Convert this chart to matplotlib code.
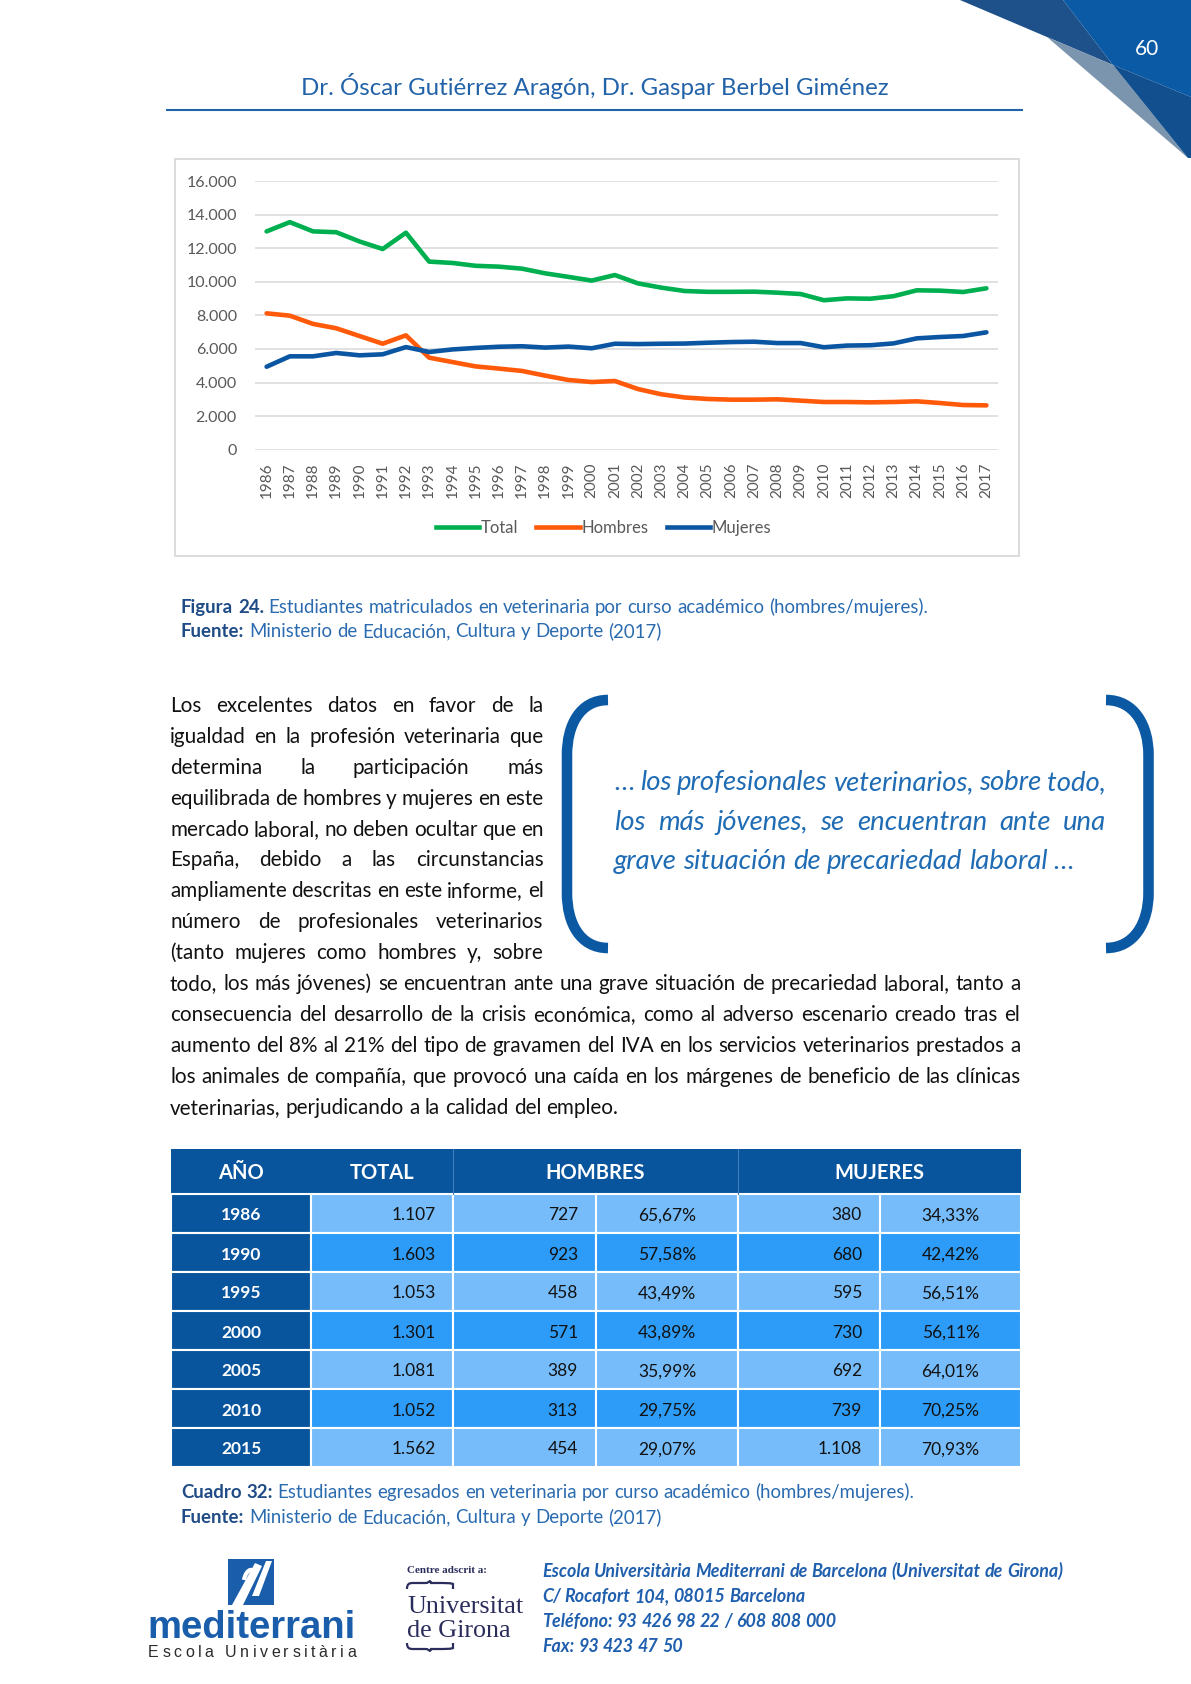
import matplotlib
matplotlib.use('Agg')
import matplotlib.pyplot as plt
from matplotlib.patches import Rectangle, Polygon, PathPatch
from matplotlib.path import Path
from matplotlib.lines import Line2D

# ---------------- data ----------------
years = ['1986', '1987', '1988', '1989', '1990', '1991', '1992', '1993', '1994', '1995',
         '1996', '1997', '1998', '1999', '2000', '2001', '2002', '2003', '2004', '2005',
         '2006', '2007', '2008', '2009', '2010', '2011', '2012', '2013', '2014', '2015',
         '2016', '2017']
total = [13000, 13550, 13000, 12950, 12400, 11950, 12920, 11200, 11120, 10950,
         10900, 10780, 10500, 10290, 10070, 10400, 9900, 9650, 9450, 9400,
         9400, 9410, 9350, 9270, 8900, 9010, 8990, 9140, 9490, 9470, 9390, 9610]
hombres = [8120, 7980, 7490, 7230, 6770, 6310, 6810, 5480, 5220, 4960,
           4830, 4690, 4410, 4150, 4030, 4090, 3610, 3300, 3110, 3020,
           2980, 2980, 3000, 2920, 2840, 2840, 2820, 2840, 2880, 2780, 2660, 2640]
mujeres = [4940, 5560, 5560, 5760, 5620, 5680, 6110, 5820, 5970, 6060,
           6130, 6160, 6080, 6140, 6040, 6310, 6290, 6310, 6320, 6370,
           6410, 6430, 6350, 6350, 6100, 6200, 6220, 6330, 6630, 6710, 6770, 6990]
series_names = ['Total', 'Hombres', 'Mujeres']
series_colors = ['#00B050', '#FF5A0A', '#0B56A2']
y_ticks = [0, 2000, 4000, 6000, 8000, 10000, 12000, 14000, 16000]

tab_header = ['AÑO', 'TOTAL', 'HOMBRES', 'MUJERES']
tab_years = ['1986', '1990', '1995', '2000', '2005', '2010', '2015']
tab_total = ['1.107', '1.603', '1.053', '1.301', '1.081', '1.052', '1.562']
tab_h = ['727', '923', '458', '571', '389', '313', '454']
tab_hp = ['65,67%', '57,58%', '43,49%', '43,89%', '35,99%', '29,75%', '29,07%']
tab_m = ['380', '680', '595', '730', '692', '739', '1.108']
tab_mp = ['34,33%', '42,42%', '56,51%', '56,11%', '64,01%', '70,25%', '70,93%']

header_text = 'Dr. Óscar Gutiérrez Aragón, Dr. Gaspar Berbel Giménez'
page_num = '60'
body_left = ['Los excelentes datos en favor de la',
             'igualdad en la profesión veterinaria que',
             'determina la participación más',
             'equilibrada de hombres y mujeres en este',
             'mercado laboral, no deben ocultar que en',
             'España, debido a las circunstancias',
             'ampliamente descritas en este informe, el',
             'número de profesionales veterinarios',
             '(tanto mujeres como hombres y, sobre']
body_full = ['todo, los más jóvenes) se encuentran ante una grave situación de precariedad laboral, tanto a',
             'consecuencia del desarrollo de la crisis económica, como al adverso escenario creado tras el',
             'aumento del 8% al 21% del tipo de gravamen del IVA en los servicios veterinarios prestados a',
             'los animales de compañía, que provocó una caída en los márgenes de beneficio de las clínicas',
             'veterinarias, perjudicando a la calidad del empleo.']
quote_lines = ['… los profesionales veterinarios, sobre todo,',
               'los más jóvenes, se encuentran ante una',
               'grave situación de precariedad laboral …']
footer_lines = ['Escola Universitària Mediterrani de Barcelona (Universitat de Girona)',
                'C/ Rocafort 104, 08015 Barcelona',
                'Teléfono: 93 426 98 22 / 608 808 000',
                'Fax: 93 423 47 50']

# ---------------- page setup ----------------
W, H = 1191, 1684
fig = plt.figure(figsize=(W / 100, H / 100), dpi=100)
fig.patch.set_facecolor('white')
pg = fig.add_axes([0, 0, 1, 1])
pg.set_xlim(0, W)
pg.set_ylim(H, 0)
pg.axis('off')
R = fig.canvas.get_renderer()
F = 'Lato'


def tw(s, **kw):
    t = pg.text(0, 0, s, **kw)
    w = t.get_window_extent(renderer=R).width
    t.remove()
    return w


def toks(s, **st):
    return [(w, st) for w in s.split(' ')]


def space_w(fs, fam, st):
    return tw('n n', fontsize=fs, family=fam, **st) - tw('nn', fontsize=fs, family=fam, **st)


def fit_size(tokens, target, fam, base=20.0):
    ws = [tw(w, fontsize=base, family=fam, **st) for w, st in tokens]
    sp = space_w(base, fam, tokens[-1][1])
    nat = sum(ws) + sp * (len(tokens) - 1)
    return base * target / nat


def draw_line(x0, y, tokens, fs, fam, x1=None):
    ws = [tw(w, fontsize=fs, family=fam, **st) for w, st in tokens]
    if x1 is None or len(tokens) == 1:
        gap = space_w(fs, fam, tokens[-1][1])
    else:
        gap = (x1 - x0 - sum(ws)) / (len(tokens) - 1)
    x = x0
    for (w, st), wd in zip(tokens, ws):
        pg.text(x, y, w, fontsize=fs, family=fam, ha='left', va='baseline', **st)
        x += wd + gap


# ---------------- top-right decoration ----------------
pg.add_patch(Polygon([(960, 0), (1063, 0), (1113, 65), (1047, 37)], closed=True, fc='#1E5189', ec='none'))
pg.add_patch(Polygon([(1063, 0), (1191, 0), (1191, 97), (1113, 65)], closed=True, fc='#0B5AA6', ec='none'))
pg.add_patch(Polygon([(1047, 37), (1113, 65), (1188, 158)], closed=True, fc='#7C95AE', ec='none'))
pg.add_patch(Polygon([(1113, 65), (1191, 97), (1191, 158), (1188, 158)], closed=True, fc='#124F8E', ec='none'))
pg.text(1147, 49, page_num, color='white', fontsize=15, family=F, ha='center', va='center')

# header
hs = fit_size([(header_text, {})], 588, F)
pg.text(595, 95, header_text, fontsize=hs, family=F, color='#2262A9', ha='center', va='baseline')
pg.plot([166, 1023], [110, 110], color='#2262A9', lw=1.5, solid_capstyle='butt')

# ---------------- chart ----------------
pg.add_patch(Rectangle((175, 159), 844, 397, fc='white', ec='#D9D9D9', lw=1.3))
ax = fig.add_axes([255 / W, 1 - 449.7 / H, 743 / W, 268.7 / H])
ax.set_facecolor('none')
xs = list(range(len(years)))
for vals, name, col in zip([total, hombres, mujeres], series_names, series_colors):
    ax.plot(xs, vals, color=col, lw=3.3, label=name, solid_capstyle='round', solid_joinstyle='round')
ax.set_xlim(-0.5, len(years) - 0.5)
ax.set_ylim(0, 16000)
ax.set_yticks(y_ticks)
ax.set_yticklabels([f'{v:,.0f}'.replace(',', '.') for v in y_ticks])
ax.set_xticks(xs)
ax.set_xticklabels(years, rotation=90)
ax.yaxis.grid(True, color='#D9D9D9', lw=1.1)
ax.set_axisbelow(True)
for s in ax.spines.values():
    s.set_visible(False)
ax.tick_params(axis='y', length=0, pad=13, labelsize=11.5, labelcolor='#595959')
ax.tick_params(axis='x', length=0, pad=9, labelsize=11, labelcolor='#595959')
for lab in ax.get_xticklabels() + ax.get_yticklabels():
    lab.set_family(F)
handles = [Line2D([0], [0], color=c, lw=3.3) for c in series_colors]
leg = ax.legend(handles, series_names, loc='center', bbox_to_anchor=(603.5 / W, 1 - 528 / H),
                bbox_transform=fig.transFigure, ncol=3, frameon=False, handlelength=2.6,
                handletextpad=0.1, columnspacing=1.1, prop=dict(family=F, size=12))
for t in leg.get_texts():
    t.set_color('#595959')

# ---------------- caption 1 ----------------
cb = dict(color='#1F4B86', fontweight='bold')
cr = dict(color='#2A6BB0')
cap1 = toks('Figura 24.', **cb) + toks('Estudiantes matriculados en veterinaria por curso académico (hombres/mujeres).', **cr)
cap2 = toks('Fuente:', **cb) + toks('Ministerio de Educación, Cultura y Deporte (2017)', **cr)
cfs = fit_size(cap1, 749, F)
draw_line(181, 613, cap1, cfs, F)
draw_line(181, 637, cap2, cfs, F)

# ---------------- body paragraph ----------------
bst = dict(color='#111111')
bfs = fit_size(toks(body_full[-1], **bst), 450, F)
y0, dy = 712, 30.9
for i, line in enumerate(body_left):
    draw_line(170, y0 + dy * i, toks(line, **bst), bfs, F, x1=543.4)
for j, line in enumerate(body_full):
    i = len(body_left) + j
    x1 = None if j == len(body_full) - 1 else 1020.2
    draw_line(170, y0 + dy * i, toks(line, **bst), bfs, F, x1=x1)

# ---------------- quote ----------------
M_, C_, L_ = Path.MOVETO, Path.CURVE4, Path.LINETO
lb = Path([(608, 700), (580, 700), (567, 725), (567, 755), (567, 893), (567, 923), (580, 948), (608, 948)],
          [M_, C_, C_, C_, L_, C_, C_, C_])
rb = Path([(1106, 700), (1134, 700), (1148.5, 725), (1148.5, 755), (1148.5, 893), (1148.5, 923), (1134, 948), (1106, 948)],
          [M_, C_, C_, C_, L_, C_, C_, C_])
for p in (lb, rb):
    pg.add_patch(PathPatch(p, fc='none', ec='#0B58A3', lw=7.6, capstyle='butt'))
qst = dict(color='#1F6CB4', fontstyle='italic')
qfs = fit_size(toks(quote_lines[2], **qst), 460, F)
qy = [790, 829.6, 869]
for k, line in enumerate(quote_lines):
    draw_line(614, qy[k], toks(line, **qst), qfs, F, x1=(1106 if k < 2 else None))

# ---------------- table ----------------
cx = [171, 311, 453, 596, 738, 880, 1021]
hy0, hy1 = 1149, 1194
rh = 39
dark = '#08559E'
light = '#76BCFA'
mid = '#2D9CF8'
pg.add_patch(Rectangle((cx[0], hy0), cx[-1] - cx[0], hy1 - hy0, fc=dark, ec='none'))
for xv in (cx[2], cx[4]):
    pg.plot([xv, xv], [hy0, hy1], color='#3D7DBE', lw=0.8)
hc = [(cx[0] + cx[1]) / 2, (cx[1] + cx[2]) / 2, (cx[2] + cx[4]) / 2, (cx[4] + cx[6]) / 2]
for t, xc in zip(tab_header, hc):
    pg.text(xc, (hy0 + hy1) / 2 + 7.5, t, color='white', fontsize=14.5, fontweight='bold', family=F,
            ha='center', va='baseline')
for r in range(len(tab_years)):
    y = hy1 + rh * r
    bg = light if r % 2 == 0 else mid
    for c in range(6):
        fc = dark if c == 0 else bg
        pg.add_patch(Rectangle((cx[c], y), cx[c + 1] - cx[c], rh, fc=fc, ec='white', lw=1.5))
    yb = y + rh / 2 + 7
    kw = dict(fontsize=12.5, family=F, va='baseline')
    pg.text((cx[0] + cx[1]) / 2, yb, tab_years[r], color='white', fontweight='bold', ha='center', **kw)
    pg.text(cx[2] - 17, yb, tab_total[r], color='#111111', ha='right', **kw)
    pg.text(cx[3] - 18, yb, tab_h[r], color='#111111', ha='right', **kw)
    pg.text((cx[3] + cx[4]) / 2, yb, tab_hp[r], color='#111111', ha='center', **kw)
    pg.text(cx[5] - 18, yb, tab_m[r], color='#111111', ha='right', **kw)
    pg.text((cx[5] + cx[6]) / 2, yb, tab_mp[r], color='#111111', ha='center', **kw)

# caption 2
cap3 = toks('Cuadro 32:', **cb) + toks('Estudiantes egresados en veterinaria por curso académico (hombres/mujeres).', **cr)
draw_line(181, 1498, cap3, cfs, F)
draw_line(181, 1523, cap2, cfs, F)

# ---------------- footer ----------------
# mediterrani logo
pg.add_patch(Rectangle((228, 1559), 46, 46, fc='#1A5DAB', ec='none'))
pg.add_patch(Polygon([(232, 1605), (243, 1605), (262, 1566), (255, 1563)], closed=True, fc='white', ec='none'))
pg.add_patch(PathPatch(Path([(244, 1580), (246, 1568), (256, 1566), (252, 1578)], [M_, C_, C_, C_]),
                       fc='none', ec='white', lw=3))
pg.add_patch(Polygon([(252, 1596), (259, 1596), (272, 1561), (266, 1561)], closed=True, fc='white', ec='none'))
ms = fit_size([('mediterrani', dict(fontweight='bold'))], 208, 'Liberation Sans')
pg.text(147, 1638, 'mediterrani', fontsize=ms, fontweight='bold', family='Liberation Sans',
        color='#1A5DAB', ha='left', va='baseline')
esc = 'Escola Universitària'
cws = [tw(ch, fontsize=11.5, family='Liberation Sans') if ch != ' ' else 0 for ch in esc]
spw = space_w(11.5, 'Liberation Sans', {})
cws = [w if ch != ' ' else spw for w, ch in zip(cws, esc)]
track = (208 - sum(cws)) / (len(esc) - 1)
xx = 148
for ch, w in zip(esc, cws):
    if ch != ' ':
        pg.text(xx, 1657, ch, fontsize=11.5, family='Liberation Sans', color='#2B2B2B', ha='left', va='baseline')
    xx += w + track

# Universitat de Girona
navy = '#2B2D5C'
SER = 'Liberation Serif'
csz = fit_size([('Centre adscrit a:', dict(fontweight='bold'))], 80, SER)
pg.text(407, 1573, 'Centre adscrit a:', fontsize=csz, fontweight='bold', family=SER, color=navy,
        ha='left', va='baseline')
usz = fit_size([('Universitat', {})], 116, SER)
pg.text(407, 1613, 'Universitat', fontsize=usz, family=SER, color=navy, ha='left', va='baseline')
pg.text(407, 1637, 'de Girona', fontsize=usz, family=SER, color=navy, ha='left', va='baseline')
brace_top = Path([(407, 1589), (407, 1584), (409, 1583), (413, 1583), (426, 1583), (429, 1583), (430, 1579),
                  (431, 1583), (434, 1583), (447, 1583), (451, 1583), (453, 1584), (453, 1589)],
                 [M_, C_, C_, C_, L_, C_, C_, C_, L_, C_, C_, C_, L_])
brace_bot = Path([(407, 1643), (407, 1648), (409, 1649), (413, 1649), (426, 1649), (429, 1649), (430, 1653),
                  (431, 1649), (434, 1649), (447, 1649), (451, 1649), (453, 1648), (453, 1643)],
                 [M_, C_, C_, C_, L_, C_, C_, C_, L_, C_, C_, C_, L_])
for p in (brace_top, brace_bot):
    pg.add_patch(PathPatch(p, fc='none', ec=navy, lw=1.6))

# contact lines
fst = dict(color='#1F5FAE', fontweight='bold', fontstyle='italic')
ffs = fit_size(toks(footer_lines[0], **fst), 519, F)
for k, line in enumerate(footer_lines):
    draw_line(542, 1577 + 25 * k, toks(line, **fst), ffs, F)

fig.savefig('out.png', dpi=100, facecolor='white')
